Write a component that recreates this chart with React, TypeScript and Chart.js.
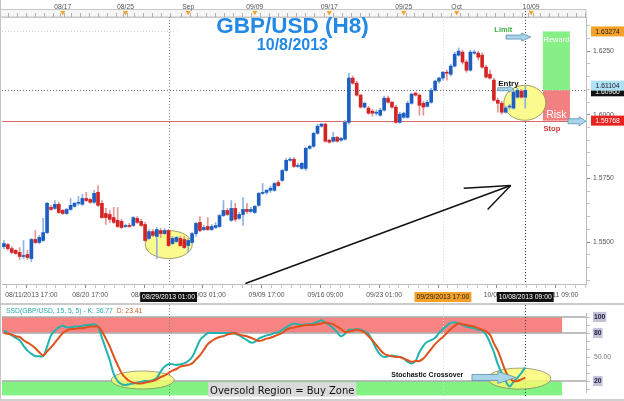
import React, { useEffect, useRef } from "react";
import { Chart, registerables } from "chart.js";

Chart.register(...registerables);

// ---------------- data (GBP/USD H8 candles) ----------------
const opens = [
  1.5482, 1.5490, 1.5474, 1.5467, 1.5459, 1.5443, 1.5451, 1.5435, 1.5510, 1.5498,
  1.5506, 1.5537, 1.5636, 1.5632, 1.5648, 1.5624, 1.5612, 1.5628, 1.5640, 1.5652,
  1.5648, 1.5671, 1.5667, 1.5656, 1.5695, 1.5652, 1.5612, 1.5608, 1.5596, 1.5585,
  1.5581, 1.5561, 1.5565, 1.5565, 1.5593, 1.5581, 1.5569, 1.5514, 1.5541, 1.5522,
  1.5545, 1.5533, 1.5545, 1.5494, 1.5502, 1.5514, 1.5510, 1.5486, 1.5498, 1.5533,
  1.5577, 1.5549, 1.5561, 1.5549, 1.5557, 1.5561, 1.5604, 1.5624, 1.5585, 1.5632,
  1.5593, 1.5608, 1.5628, 1.5620, 1.5616, 1.5644, 1.5691, 1.5695, 1.5703, 1.5703,
  1.5734, 1.5742, 1.5781, 1.5821, 1.5825, 1.5797, 1.5789, 1.5789, 1.5868, 1.5876,
  1.5927, 1.5955, 1.5963, 1.5900, 1.5896, 1.5911, 1.5900, 1.5904, 1.5970, 1.6144,
  1.6124, 1.6077, 1.6030, 1.6026, 1.6014, 1.6006, 1.5998, 1.6018, 1.6065, 1.6049,
  1.6030, 1.5970, 1.5990, 1.5990, 1.6045, 1.6085, 1.6077, 1.6045, 1.6033, 1.6049,
  1.6096, 1.6132, 1.6144, 1.6167, 1.6159, 1.6191, 1.6234, 1.6246, 1.6207, 1.6175,
  1.6242, 1.6242, 1.6234, 1.6187, 1.6159, 1.6136, 1.6057, 1.6045, 1.6010, 1.6030,
  1.6026, 1.6069, 1.6093, 1.6069,
];
const highs = [
  1.5506, 1.5494, 1.5482, 1.5470, 1.5478, 1.5506, 1.5467, 1.5514, 1.5545, 1.5526,
  1.5593, 1.5656, 1.5644, 1.5663, 1.5656, 1.5628, 1.5632, 1.5671, 1.5656, 1.5679,
  1.5687, 1.5695, 1.5671, 1.5703, 1.5722, 1.5663, 1.5632, 1.5624, 1.5636, 1.5636,
  1.5589, 1.5569, 1.5573, 1.5600, 1.5600, 1.5589, 1.5577, 1.5549, 1.5549, 1.5557,
  1.5553, 1.5553, 1.5549, 1.5522, 1.5522, 1.5522, 1.5522, 1.5514, 1.5537, 1.5577,
  1.5600, 1.5565, 1.5596, 1.5569, 1.5577, 1.5608, 1.5663, 1.5632, 1.5663, 1.5652,
  1.5616, 1.5675, 1.5652, 1.5636, 1.5644, 1.5695, 1.5730, 1.5707, 1.5719, 1.5734,
  1.5742, 1.5785, 1.5829, 1.5833, 1.5833, 1.5809, 1.5813, 1.5872, 1.5880, 1.5931,
  1.5963, 1.5967, 1.5967, 1.5904, 1.5931, 1.5915, 1.5911, 1.5978, 1.6163, 1.6152,
  1.6132, 1.6081, 1.6049, 1.6033, 1.6022, 1.6018, 1.6026, 1.6073, 1.6073, 1.6053,
  1.6037, 1.6010, 1.6010, 1.6053, 1.6085, 1.6089, 1.6081, 1.6053, 1.6057, 1.6104,
  1.6136, 1.6148, 1.6171, 1.6175, 1.6199, 1.6246, 1.6262, 1.6254, 1.6215, 1.6254,
  1.6254, 1.6250, 1.6242, 1.6195, 1.6175, 1.6144, 1.6065, 1.6053, 1.6033, 1.6041,
  1.6096, 1.6104, 1.6100, 1.6112,
];
const lows = [
  1.5474, 1.5467, 1.5455, 1.5451, 1.5431, 1.5435, 1.5431, 1.5423, 1.5494, 1.5494,
  1.5502, 1.5533, 1.5624, 1.5628, 1.5612, 1.5608, 1.5608, 1.5624, 1.5636, 1.5644,
  1.5644, 1.5659, 1.5652, 1.5652, 1.5640, 1.5593, 1.5569, 1.5577, 1.5573, 1.5557,
  1.5553, 1.5557, 1.5557, 1.5561, 1.5573, 1.5561, 1.5502, 1.5510, 1.5522, 1.5435,
  1.5518, 1.5530, 1.5482, 1.5490, 1.5498, 1.5482, 1.5474, 1.5459, 1.5494, 1.5522,
  1.5541, 1.5545, 1.5545, 1.5545, 1.5553, 1.5557, 1.5600, 1.5604, 1.5581, 1.5581,
  1.5589, 1.5565, 1.5612, 1.5616, 1.5612, 1.5640, 1.5687, 1.5687, 1.5695, 1.5699,
  1.5719, 1.5738, 1.5778, 1.5817, 1.5793, 1.5793, 1.5785, 1.5781, 1.5864, 1.5872,
  1.5923, 1.5951, 1.5892, 1.5888, 1.5892, 1.5892, 1.5896, 1.5900, 1.5963, 1.6120,
  1.6073, 1.6026, 1.6026, 1.6002, 1.5994, 1.5998, 1.5994, 1.6014, 1.6045, 1.6026,
  1.5967, 1.5967, 1.5986, 1.5986, 1.6041, 1.6073, 1.5998, 1.5998, 1.6030, 1.6045,
  1.6093, 1.6124, 1.6136, 1.6136, 1.6152, 1.6187, 1.6230, 1.6199, 1.6167, 1.6171,
  1.6238, 1.6215, 1.6183, 1.6144, 1.6140, 1.6053, 1.6010, 1.6002, 1.6006, 1.6022,
  1.6022, 1.6065, 1.6065, 1.6026,
];
const closes = [
  1.5494, 1.5474, 1.5459, 1.5455, 1.5443, 1.5447, 1.5439, 1.5510, 1.5498, 1.5518,
  1.5537, 1.5652, 1.5628, 1.5648, 1.5616, 1.5612, 1.5628, 1.5644, 1.5652, 1.5656,
  1.5671, 1.5663, 1.5656, 1.5691, 1.5644, 1.5596, 1.5596, 1.5589, 1.5577, 1.5561,
  1.5557, 1.5565, 1.5561, 1.5596, 1.5577, 1.5565, 1.5506, 1.5541, 1.5526, 1.5549,
  1.5533, 1.5545, 1.5486, 1.5514, 1.5518, 1.5486, 1.5478, 1.5506, 1.5533, 1.5573,
  1.5545, 1.5557, 1.5549, 1.5561, 1.5565, 1.5604, 1.5624, 1.5608, 1.5632, 1.5589,
  1.5608, 1.5628, 1.5620, 1.5628, 1.5640, 1.5691, 1.5695, 1.5703, 1.5711, 1.5730,
  1.5722, 1.5781, 1.5821, 1.5825, 1.5797, 1.5801, 1.5809, 1.5868, 1.5876, 1.5927,
  1.5955, 1.5963, 1.5896, 1.5892, 1.5911, 1.5896, 1.5907, 1.5970, 1.6144, 1.6124,
  1.6077, 1.6030, 1.6045, 1.6006, 1.6006, 1.6010, 1.6018, 1.6065, 1.6049, 1.6030,
  1.5970, 1.6002, 1.6006, 1.6045, 1.6081, 1.6077, 1.6037, 1.6030, 1.6049, 1.6096,
  1.6132, 1.6144, 1.6167, 1.6163, 1.6191, 1.6238, 1.6250, 1.6207, 1.6175, 1.6246,
  1.6246, 1.6226, 1.6187, 1.6148, 1.6144, 1.6057, 1.6045, 1.6010, 1.6026, 1.6033,
  1.6089, 1.6096, 1.6069, 1.6096,
];

// Slow stochastic (15,5,5)
const stochK = [
  83, 80, 77, 74, 71, 64, 58, 54, 51, 51,
  51, 63, 77, 83, 87, 89, 87, 87, 88, 88,
  89, 90, 90, 91, 88, 74, 60, 46, 29, 20,
  16, 15, 16, 17, 18, 19, 20, 20, 21, 24,
  32, 38, 41, 41, 40, 41, 42, 45, 50, 60,
  71, 76, 80, 80, 80, 80, 80, 80, 80, 79,
  77, 74, 71, 68, 69, 73, 75, 77, 78, 80,
  81, 84, 87, 90, 92, 91, 90, 91, 91, 92,
  94, 96, 93, 90, 86, 81, 76, 79, 84, 84,
  85, 84, 82, 79, 70, 60, 53, 50, 51, 52,
  51, 50, 48, 44, 42, 45, 56, 64, 69, 71,
  74, 80, 85, 89, 93, 93, 92, 90, 88, 87,
  86, 84, 83, 78, 68, 56, 41, 30, 20, 13,
  19, 24, 30, 37,
];
const stochD = [
  80, 79, 78, 76, 75, 71, 68, 65, 61, 56,
  52, 57, 62, 68, 74, 80, 83, 85, 85, 86,
  86, 87, 88, 88, 88, 82, 73, 63, 51, 40,
  30, 24, 20, 18, 17, 17, 18, 19, 20, 22,
  25, 27, 30, 33, 35, 38, 39, 40, 42, 47,
  52, 59, 66, 70, 73, 75, 76, 78, 79, 80,
  78, 77, 76, 74, 72, 70, 71, 73, 74, 76,
  78, 80, 84, 86, 87, 88, 89, 90, 90, 90,
  91, 92, 93, 92, 91, 88, 85, 81, 82, 83,
  84, 83, 81, 76, 71, 65, 59, 54, 52, 51,
  50, 50, 48, 46, 44, 45, 45, 48, 54, 60,
  66, 71, 75, 80, 85, 89, 92, 91, 90, 89,
  88, 86, 84, 82, 78, 67, 58, 45, 32, 24,
  20, 20, 22, 24,
];

const slotCount = 149; // time slots on the axis, incl. empty future area
const bottomTickIdx = [7, 22, 37, 52, 67, 82, 97, 112, 127, 142];
const bottomTickLabels = [
  "08/11/2013 17:00", "08/20 17:00", "08/28 09:00", "09/03 01:00", "09/09 17:00",
  "09/16 09:00", "09/23 01:00", "09/29 17:00", "10/04 09:00", "10/11 09:00",
];
const topTickIdx = [15, 31, 47, 64, 83, 102, 115.5, 134.5];
const topTickLabels = ["08/17", "08/25", "Sep", "09/09", "09/17", "09/25", "Oct", "10/09"];
const priceTicks = [1.55, 1.575, 1.6, 1.625];
const stochTicks = [20, 50, 80, 100];
const markerIdx = [42, 112, 133];
const markerLabels = ["08/29/2013 01:00", "09/29/2013 17:00", "10/08/2013 09:00"];
const limitPrice = 1.63274;
const stopPrice = 1.59768;
const bidPrice = 1.61104;
const lastK = "36.77";
const lastD = "23.41";

// ---------------- helpers ----------------
const FONT = "Liberation Sans";
const AX_FONT = { family: FONT, size: 6.8 };

function seg(ctx: any, x1: number, y1: number, x2: number, y2: number, color: string, w: number, dash?: number[]) {
  ctx.save();
  ctx.beginPath();
  ctx.strokeStyle = color;
  ctx.lineWidth = w;
  ctx.setLineDash(dash || []);
  ctx.moveTo(x1, y1);
  ctx.lineTo(x2, y2);
  ctx.stroke();
  ctx.restore();
}

function blockArrow(ctx: any, x1: number, x2: number, y: number, shaft: number, head: number, headLen: number) {
  ctx.save();
  ctx.beginPath();
  ctx.moveTo(x1, y - shaft / 2);
  ctx.lineTo(x2 - headLen, y - shaft / 2);
  ctx.lineTo(x2 - headLen, y - head / 2);
  ctx.lineTo(x2, y);
  ctx.lineTo(x2 - headLen, y + head / 2);
  ctx.lineTo(x2 - headLen, y + shaft / 2);
  ctx.lineTo(x1, y + shaft / 2);
  ctx.closePath();
  ctx.fillStyle = "#a8d5ea";
  ctx.fill();
  ctx.strokeStyle = "#5a8db0";
  ctx.lineWidth = 0.8;
  ctx.stroke();
  ctx.restore();
}

function ellipse(ctx: any, cx: number, cy: number, rx: number, ry: number, fill: string, stroke: string) {
  ctx.save();
  ctx.beginPath();
  ctx.ellipse(cx, cy, rx, ry, 0, 0, Math.PI * 2);
  ctx.fillStyle = fill;
  ctx.fill();
  ctx.strokeStyle = stroke;
  ctx.lineWidth = 0.8;
  ctx.stroke();
  ctx.restore();
}

function text(ctx: any, s: string, x: number, y: number, font: string, color: string, align = "center", baseline = "alphabetic") {
  ctx.save();
  ctx.font = font;
  ctx.fillStyle = color;
  ctx.textAlign = align;
  ctx.textBaseline = baseline;
  ctx.fillText(s, x, y);
  ctx.restore();
}

function boxLabel(ctx: any, s: string, x: number, yc: number, w: number, bg: string, fg: string, center = false) {
  ctx.save();
  ctx.font = `6.8px ${FONT}`;
  const tw = ctx.measureText(s).width;
  const bw = w > 0 ? w : tw + 4;
  const left = center ? x - bw / 2 : x;
  ctx.fillStyle = bg;
  ctx.fillRect(left, yc - 5, bw, 10);
  ctx.fillStyle = fg;
  ctx.textBaseline = "middle";
  ctx.textAlign = "left";
  ctx.fillText(s, left + (bw - tw) / 2, yc + 0.5);
  ctx.restore();
}

function range(start: number, step: number, end: number) {
  const out: number[] = [];
  for (let v = start; v <= end + 1e-9; v += step) out.push(Math.round(v * 1e5) / 1e5);
  return out;
}

// ---------------- price chart plugin ----------------
const pricePlugin = {
  id: "priceDeco",
  beforeDraw(chart: any) {
    const { ctx, chartArea: ca } = chart;
    ctx.save();
    ctx.fillStyle = "#f6f6f6";
    ctx.fillRect(0, 9, ca.right, 8);
    ctx.strokeStyle = "#c6c6c6";
    ctx.lineWidth = 1;
    ctx.strokeRect(0.5, 9.5, ca.right - 0.5, 7.5);
    ctx.restore();
  },
  beforeDatasetsDraw(chart: any) {
    const { ctx, chartArea: ca, scales } = chart;
    const px = (v: number) => scales.x.getPixelForValue(v);
    const py = (v: number) => scales.y.getPixelForValue(v);
    const entry = closes[closes.length - 1];
    // level lines
    seg(ctx, ca.left, Math.round(py(limitPrice)) + 0.5, px(44), Math.round(py(limitPrice)) + 0.5, "#cfcfcf", 1, [1, 2]);
    seg(ctx, ca.left, Math.round(py(entry)) + 0.5, ca.right, Math.round(py(entry)) + 0.5, "#666", 1, [1, 2]);
    seg(ctx, ca.left, Math.round(py(stopPrice)) + 0.5, ca.right, Math.round(py(stopPrice)) + 0.5, "#d96a6a", 1);
    // vertical markers
    seg(ctx, Math.round(px(markerIdx[1])) + 0.5, ca.top, Math.round(px(markerIdx[1])) + 0.5, ca.bottom, "#dcdcdc", 1, [1, 2]);
    seg(ctx, Math.round(px(markerIdx[0])) + 0.5, ca.top, Math.round(px(markerIdx[0])) + 0.5, ca.bottom, "#888", 1, [1, 2]);
    seg(ctx, Math.round(px(markerIdx[2])) + 0.5, ca.top - 6, Math.round(px(markerIdx[2])) + 0.5, ca.bottom, "#444", 1, [1, 2]);
    // reward / risk boxes
    const rx1 = px(137.5), rx2 = px(144.4);
    ctx.save();
    ctx.fillStyle = "#86ef86";
    ctx.fillRect(rx1, py(limitPrice), rx2 - rx1, py(entry) - py(limitPrice));
    ctx.fillStyle = "#f28080";
    ctx.fillRect(rx1, py(entry), rx2 - rx1, py(stopPrice) - py(entry));
    ctx.restore();
    // highlight ellipses
    ellipse(ctx, px(42.05), py(1.549), 23.5, 14, "#fafa8e", "#8a8a55");
    ellipse(ctx, px(132.9), py(1.6047), 21, 17.5, "#fafa8e", "#8a8a55");
  },
  afterDatasetsDraw(chart: any) {
    const { ctx, scales } = chart;
    const px = (v: number) => scales.x.getPixelForValue(v);
    const py = (v: number) => scales.y.getPixelForValue(v);
    // trend arrow
    const tipX = px(129.3), tipY = py(1.5722);
    seg(ctx, px(61.6), py(1.5337), tipX, tipY, "#111", 1.4);
    seg(ctx, px(117.3), py(1.5711), tipX, tipY, "#111", 1.4);
    seg(ctx, px(123.4), py(1.5628), tipX, tipY, "#111", 1.4);
    // title
    const cx = px(73.6);
    text(ctx, "GBP/USD (H8)", cx, 33, `bold 22.5px ${FONT}`, "#2389e6");
    text(ctx, "10/8/2013", cx, 50, `bold 16px ${FONT}`, "#2389e6");
    // reward / risk labels
    const rc = (px(137.5) + px(144.4)) / 2;
    text(ctx, "Reward", rc, py(limitPrice) + 11, `7.5px ${FONT}`, "#ffffff");
    text(ctx, "Risk", rc, py(stopPrice) - 3, `10.5px ${FONT}`, "#ffffff");
    // limit / entry / stop annotations
    text(ctx, "Limit", px(127.4), py(1.63248), `bold 7.5px ${FONT}`, "#3cb043");
    blockArrow(ctx, px(128.1), px(134.4), py(1.63051), 4, 8, 9);
    text(ctx, "Entry", px(128.7), py(1.61122), `bold 8px ${FONT}`, "#111");
    blockArrow(ctx, px(126.0), px(130.1), py(1.61004), 3, 6, 5);
    text(ctx, "Stop", px(139.8), py(1.5935), `bold 7.5px ${FONT}`, "#d03a3a");
    blockArrow(ctx, px(143.9), px(148.5), py(1.59744), 5, 9, 7);
  },
  afterDraw(chart: any) {
    const { ctx, chartArea: ca, scales } = chart;
    const px = (v: number) => scales.x.getPixelForValue(v);
    const py = (v: number) => scales.y.getPixelForValue(v);
    const entry = closes[closes.length - 1];
    // orange day markers on the top strip
    ctx.save();
    ctx.fillStyle = "#f2a427";
    for (const t of topTickIdx) {
      const x = px(t);
      ctx.beginPath();
      ctx.moveTo(x - 2.5, 11);
      ctx.lineTo(x + 2.5, 11);
      ctx.lineTo(x, 15.5);
      ctx.closePath();
      ctx.fill();
    }
    ctx.restore();
    // right axis price boxes
    const bx = ca.right + 5;
    boxLabel(ctx, limitPrice.toFixed(5), bx, py(limitPrice), 33, "#f5a128", "#222");
    boxLabel(ctx, entry.toFixed(5), bx, py(entry) + 1, 33, "#111", "#fff");
    boxLabel(ctx, bidPrice.toFixed(5), bx, py(bidPrice) - 1, 33, "#aee0f6", "#222");
    boxLabel(ctx, stopPrice.toFixed(5), bx, py(stopPrice), 33, "#e8231f", "#fff");
    // time markers on the bottom axis
    const yc = ca.bottom + 13;
    boxLabel(ctx, markerLabels[0], px(markerIdx[0]), yc, 0, "#111", "#fff", true);
    boxLabel(ctx, markerLabels[1], px(markerIdx[1]), yc, 0, "#f5a128", "#222", true);
    boxLabel(ctx, markerLabels[2], px(markerIdx[2]), yc, 0, "#111", "#fff", true);
  },
};

// ---------------- stochastic chart plugin ----------------
const stochPlugin = {
  id: "stochDeco",
  beforeDatasetsDraw(chart: any) {
    const { ctx, chartArea: ca, scales } = chart;
    const px = (v: number) => scales.x.getPixelForValue(v);
    const py = (v: number) => scales.y.getPixelForValue(v);
    const bandEnd = px(142.4);
    const bottom = py(0);
    ctx.save();
    ctx.fillStyle = "#f78383";
    ctx.fillRect(ca.left, py(100), bandEnd - ca.left, py(80) - py(100));
    ctx.fillStyle = "#82f282";
    ctx.fillRect(ca.left, py(20), bandEnd - ca.left, py(2) - py(20));
    ctx.restore();
    for (const lv of [100, 80, 20]) {
      seg(ctx, ca.left, py(lv), ca.right, py(lv), "#ababab", 1.6);
    }
    seg(ctx, Math.round(px(markerIdx[1])) + 0.5, 0, Math.round(px(markerIdx[1])) + 0.5, bottom, "#dcdcdc", 1, [1, 2]);
    seg(ctx, Math.round(px(markerIdx[0])) + 0.5, 0, Math.round(px(markerIdx[0])) + 0.5, bottom, "#888", 1, [1, 2]);
    seg(ctx, Math.round(px(markerIdx[2])) + 0.5, 0, Math.round(px(markerIdx[2])) + 0.5, bottom, "#444", 1, [1, 2]);
    ellipse(ctx, px(35.4), py(21.25), 31.5, 9, "rgba(250,250,110,0.8)", "#8a8a6a");
    ellipse(ctx, px(131.5), py(23), 31.5, 10.5, "rgba(250,250,110,0.8)", "#8a8a6a");
  },
  afterDatasetsDraw(chart: any) {
    const { ctx, chartArea: ca, scales } = chart;
    const px = (v: number) => scales.x.getPixelForValue(v);
    const py = (v: number) => scales.y.getPixelForValue(v);
    // header
    ctx.save();
    ctx.font = `6.8px ${FONT}`;
    ctx.textBaseline = "middle";
    const head = `SSD(GBP/USD, 15, 5, 5) - K: ${lastK}`;
    ctx.fillStyle = "#2aa9b0";
    ctx.fillText(head, ca.left + 4, 6.5);
    const w = ctx.measureText(head + "  ").width;
    ctx.fillStyle = "#c8652a";
    ctx.fillText(`D: ${lastD}`, ca.left + 4 + w, 6.5);
    ctx.restore();
    // oversold label
    const x1 = px(52.1), x2 = px(89.9);
    ctx.save();
    ctx.fillStyle = "#dadada";
    ctx.fillRect(x1, py(18.5), x2 - x1, py(0.5) - py(18.5));
    ctx.restore();
    text(ctx, "Oversold Region = Buy Zone", (x1 + x2) / 2, py(3.8), `10px DejaVu Sans`, "#111");
    // crossover annotation
    text(ctx, "Stochastic Crossover", px(108.0), py(24.4), `bold 7px ${FONT}`, "#111");
    blockArrow(ctx, px(119.4), px(130.6), py(24.4), 6, 12, 18);
  },
};

function priceConfig(): any {
  const idx = opens.map((_, i) => i);
  const up = idx.map((i) => closes[i] >= opens[i]);
  const bottomVals = range(2, 2.5, slotCount - 1);
  const topMinor = range(0, 2.3, slotCount - 1).filter((v) => topTickIdx.every((t) => Math.abs(t - v) > 1));
  const topVals = [...topMinor, ...topTickIdx].sort((a, b) => a - b);
  const yVals = range(1.535, 0.005, 1.635);
  const isMajorPrice = (v: number) => priceTicks.some((p) => Math.abs(p - v) < 1e-6);
  return {
    type: "bar",
    data: {
      datasets: [
        {
          label: "wick",
          data: idx.map((i) => ({ x: i, y: [lows[i], highs[i]] })),
          backgroundColor: up.map((u) => (u ? "#8db3e2" : "#e59595")),
          grouped: false,
          categoryPercentage: 1,
          barPercentage: 1,
          maxBarThickness: 1,
          order: 2,
        },
        {
          label: "body",
          data: idx.map((i) => ({ x: i, y: [opens[i], closes[i]] })),
          backgroundColor: up.map((u) => (u ? "#1d5ec4" : "#d42424")),
          grouped: false,
          categoryPercentage: 1,
          barPercentage: 1,
          maxBarThickness: 3,
          minBarLength: 1,
          order: 1,
        },
      ],
    },
    options: {
      responsive: false,
      animation: false,
      devicePixelRatio: 1,
      layout: { padding: { left: 2, right: 0, top: 0, bottom: 0 } },
      plugins: { legend: { display: false }, tooltip: { enabled: false } },
      scales: {
        x: {
          type: "linear",
          position: "bottom",
          min: -0.5,
          max: slotCount - 0.5,
          offset: false,
          afterBuildTicks: (s: any) => {
            s.ticks = bottomVals.map((v) => ({ value: v }));
          },
          afterFit: (s: any) => {
            s.height = 19;
          },
          ticks: {
            autoSkip: false,
            maxRotation: 0,
            minRotation: 0,
            padding: 3,
            font: AX_FONT,
            color: "#555",
            callback: (v: number) => {
              const j = bottomTickIdx.indexOf(v);
              return j >= 0 ? bottomTickLabels[j] : "";
            },
          },
          grid: {
            drawOnChartArea: false,
            drawTicks: true,
            tickLength: 4,
            color: (c: any) => (c.tick && bottomTickIdx.includes(c.tick.value) ? "#8a8a8a" : "#c4c4c4"),
          },
          border: { display: true, color: "#bdbdbd" },
        },
        xTop: {
          type: "linear",
          position: "top",
          min: -0.5,
          max: slotCount - 0.5,
          offset: false,
          afterBuildTicks: (s: any) => {
            s.ticks = topVals.map((v) => ({ value: v }));
          },
          afterFit: (s: any) => {
            s.height = 17;
          },
          ticks: {
            autoSkip: false,
            maxRotation: 0,
            minRotation: 0,
            padding: 2,
            font: AX_FONT,
            color: "#555",
            callback: (v: number) => {
              const j = topTickIdx.indexOf(v);
              return j >= 0 ? topTickLabels[j] : "";
            },
          },
          grid: {
            drawOnChartArea: false,
            drawTicks: true,
            tickLength: 4,
            color: "#b0b0b0",
          },
          border: { display: true, color: "#c6c6c6" },
        },
        y: {
          type: "linear",
          position: "right",
          min: 1.5335,
          max: 1.6384,
          afterBuildTicks: (s: any) => {
            s.ticks = yVals.map((v) => ({ value: v }));
          },
          afterFit: (s: any) => {
            s.width = 38;
          },
          ticks: {
            autoSkip: false,
            padding: 3,
            font: AX_FONT,
            color: "#555",
            callback: (v: number) => (isMajorPrice(v) ? v.toFixed(4) : ""),
          },
          grid: {
            drawOnChartArea: false,
            drawTicks: true,
            tickLength: 4,
            color: (c: any) => (c.tick && isMajorPrice(c.tick.value) ? "#8a8a8a" : "#c4c4c4"),
          },
          border: { display: true, color: "#bdbdbd" },
        },
      },
    },
    plugins: [pricePlugin],
  };
}

function stochConfig(): any {
  const idx = stochK.map((_, i) => i);
  const yVals = range(10, 10, 100);
  const boxed = (v: number) => v === 20 || v === 80 || v === 100;
  return {
    type: "line",
    data: {
      datasets: [
        {
          label: "K",
          data: idx.map((i) => ({ x: i, y: stochK[i] })),
          borderColor: "#22b3ae",
          borderWidth: 2,
          pointRadius: 0,
          tension: 0.35,
          fill: false,
          order: 2,
        },
        {
          label: "D",
          data: idx.map((i) => ({ x: i, y: stochD[i] })),
          borderColor: "#e0521c",
          borderWidth: 2,
          pointRadius: 0,
          tension: 0.35,
          fill: false,
          order: 1,
        },
      ],
    },
    options: {
      responsive: false,
      animation: false,
      devicePixelRatio: 1,
      layout: { padding: { left: 2, right: 0, top: 0, bottom: 0 } },
      plugins: { legend: { display: false }, tooltip: { enabled: false } },
      scales: {
        x: { type: "linear", display: false, min: -0.5, max: slotCount - 0.5, offset: false },
        y: {
          type: "linear",
          position: "right",
          min: 5.1,
          max: 104.9,
          afterBuildTicks: (s: any) => {
            s.ticks = yVals.map((v) => ({ value: v }));
          },
          afterFit: (s: any) => {
            s.width = 38;
          },
          ticks: {
            autoSkip: false,
            padding: 4,
            font: (c: any) => ({ family: FONT, size: 6.8, weight: c.tick && boxed(c.tick.value) ? "bold" : "normal" }),
            color: (c: any) => (c.tick && boxed(c.tick.value) ? "#1b1b40" : "#777"),
            showLabelBackdrop: (c: any) => !!(c.tick && boxed(c.tick.value)),
            backdropColor: "#c3c3d8",
            backdropPadding: 1,
            callback: (v: number) => (stochTicks.includes(v) ? (v === 50 ? "50.00" : String(v)) : ""),
          },
          grid: {
            drawOnChartArea: false,
            drawTicks: true,
            tickLength: 4,
            color: "#c4c4c4",
          },
          border: { display: true, color: "#bdbdbd" },
        },
      },
    },
    plugins: [stochPlugin],
  };
}

export default function App() {
  const priceRef = useRef<HTMLCanvasElement>(null);
  const stochRef = useRef<HTMLCanvasElement>(null);

  useEffect(() => {
    const c1 = new Chart(priceRef.current as HTMLCanvasElement, priceConfig());
    const c2 = new Chart(stochRef.current as HTMLCanvasElement, stochConfig());
    return () => {
      c1.destroy();
      c2.destroy();
    };
  }, []);

  return (
    <div style={{ position: "fixed", left: 0, top: 0, width: 624, height: 401, background: "#fff", overflow: "hidden" }}>
      <canvas ref={priceRef} width={624} height={303} style={{ position: "absolute", left: 0, top: 0, width: 624, height: 303 }} />
      <div style={{ position: "absolute", left: 0, top: 303, width: 624, height: 2, background: "#cacaca" }} />
      <canvas ref={stochRef} width={624} height={96} style={{ position: "absolute", left: 0, top: 305, width: 624, height: 96 }} />
      <div style={{ position: "absolute", left: 0, top: 0, width: 1, height: 401, background: "#c4c4c4" }} />
      <div style={{ position: "absolute", left: 0, top: 399, width: 624, height: 2, background: "#d0d0d0" }} />
    </div>
  );
}
